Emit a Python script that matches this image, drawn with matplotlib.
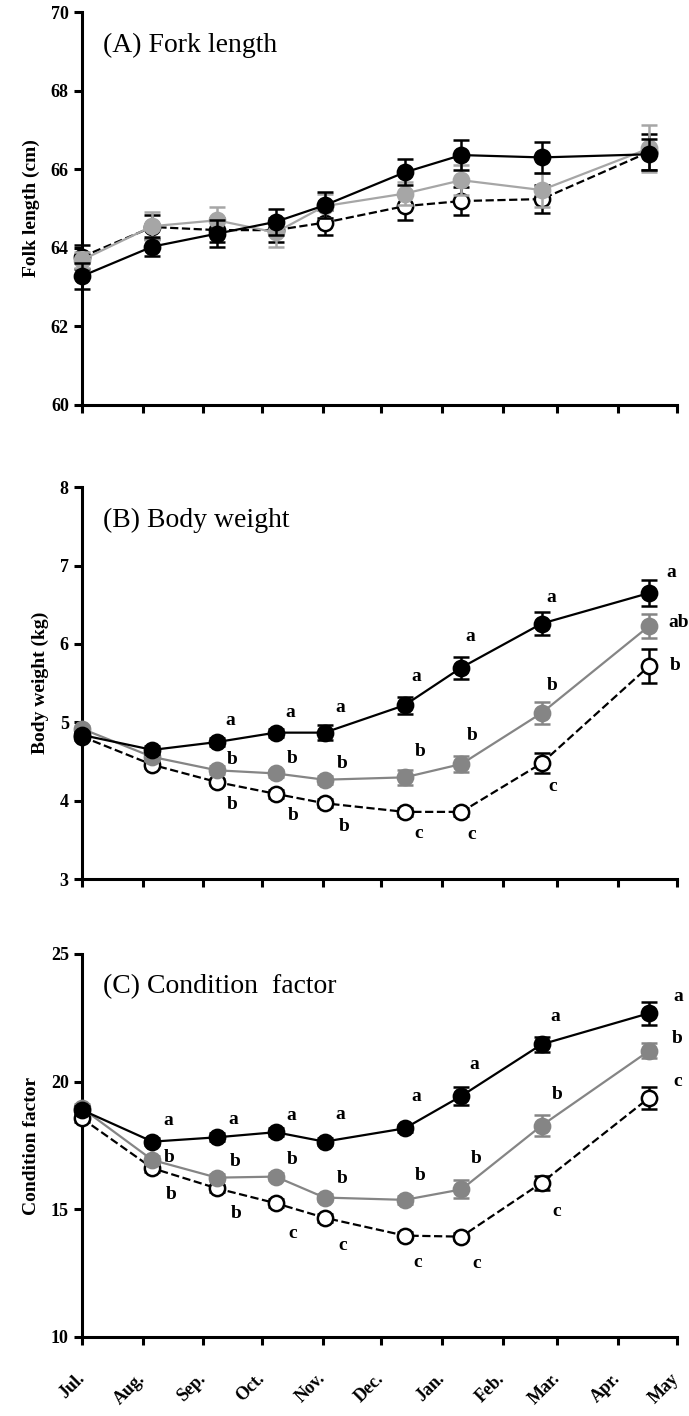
import matplotlib
matplotlib.use("Agg")
import matplotlib.pyplot as plt
import matplotlib.transforms as mtrans

plt.rcParams['font.family'] = ['Liberation Serif', 'DejaVu Serif']

# x axis: days since 1 Jul, ticks at the start of each month
month_ticks = [0, 31, 62, 92, 123, 153, 184, 215, 243, 274, 304]
month_labels = ["Jul.", "Aug.", "Sep.", "Oct.", "Nov.", "Dec.", "Jan.", "Feb.", "Mar.", "Apr.", "May"]
sample_day = [0, 36, 69, 99, 124, 165, 194, 235, 290]

# (A) Fork length (cm)
fl_black = [63.28, 64.03, 64.36, 64.66, 65.08, 65.92, 66.36, 66.30, 66.38]
fl_black_err = [0.33, 0.25, 0.35, 0.33, 0.33, 0.33, 0.38, 0.40, 0.40]
fl_gray = [63.69, 64.55, 64.70, 64.39, 65.06, 65.38, 65.72, 65.47, 66.53]
fl_gray_err = [0.20, 0.35, 0.35, 0.37, 0.30, 0.30, 0.38, 0.43, 0.60]
fl_open = [63.77, 64.53, 64.45, 64.45, 64.64, 65.06, 65.19, 65.24, 66.44]
fl_open_err = [0.30, 0.30, 0.30, 0.30, 0.32, 0.34, 0.36, 0.36, 0.45]

# (B) Body weight (kg)
bw_black = [4.84, 4.65, 4.75, 4.87, 4.87, 5.22, 5.70, 6.26, 6.65]
bw_black_err = [0.04, 0.05, 0.05, 0.05, 0.10, 0.11, 0.14, 0.15, 0.17]
bw_gray = [4.92, 4.56, 4.39, 4.35, 4.27, 4.30, 4.47, 5.12, 6.23]
bw_gray_err = [0.04, 0.04, 0.05, 0.05, 0.05, 0.10, 0.10, 0.14, 0.15]
bw_open = [4.82, 4.46, 4.24, 4.09, 3.97, 3.86, 3.86, 4.48, 5.72]
bw_open_err = [0.04, 0.04, 0.04, 0.05, 0.05, 0.05, 0.05, 0.13, 0.22]
bw_black_sig = ["", "", "a", "a", "a", "a", "a", "a", "a"]
bw_gray_sig = ["", "", "b", "b", "b", "b", "b", "b", "ab"]
bw_open_sig = ["", "", "b", "b", "b", "c", "c", "c", "b"]

# (C) Condition factor
cf_black = [18.89, 17.65, 17.82, 18.02, 17.65, 18.17, 19.44, 21.46, 22.68]
cf_black_err = [0.15, 0.15, 0.15, 0.15, 0.15, 0.15, 0.35, 0.30, 0.45]
cf_gray = [18.96, 16.93, 16.24, 16.28, 15.46, 15.37, 15.78, 18.28, 21.21]
cf_gray_err = [0.15, 0.15, 0.15, 0.15, 0.15, 0.15, 0.35, 0.42, 0.30]
cf_open = [18.56, 16.61, 15.82, 15.24, 14.67, 13.97, 13.93, 16.04, 19.37]
cf_open_err = [0.15, 0.15, 0.15, 0.15, 0.15, 0.15, 0.15, 0.28, 0.43]
cf_black_sig = ["", "a", "a", "a", "a", "a", "a", "a", "a"]
cf_gray_sig = ["", "b", "b", "b", "b", "b", "b", "b", "b"]
cf_open_sig = ["", "b", "b", "c", "c", "c", "c", "c", "c"]

# letter offsets from the point, pixels
bw_black_off = [(0, 0), (0, 0), (13, 22), (15, 20), (16, 25), (12, 29), (9, 31), (10, 26), (22, 21)]
bw_gray_off = [(0, 0), (0, 0), (15, 11), (17, 15), (18, 16), (15, 26), (11, 29), (11, 28), (29, 3)]
bw_open_off = [(0, 0), (0, 0), (15, -22), (18, -22), (20, -23), (14, -22), (10, -23), (11, -23), (26, 0)]
cf_black_off = [(0, 0), (16, 21), (16, 18), (16, 17), (16, 27), (12, 32), (13, 31), (14, 28), (29, 17)]
cf_gray_off = [(0, 0), (17, 3), (18, 16), (17, 17), (18, 19), (15, 24), (15, 31), (16, 31), (28, 12)]
cf_open_off = [(0, 0), (19, -26), (19, -25), (17, -30), (18, -28), (13, -27), (15, -27), (15, -29), (28, 16)]

fig = plt.figure(figsize=(6.89, 14.16), dpi=100)
ax_a = fig.add_axes([0.119, 0.714, 0.863, 0.2775])
ax_b = fig.add_axes([0.119, 0.379, 0.863, 0.277])
ax_c = fig.add_axes([0.119, 0.0558, 0.863, 0.2705])


def draw_series(ax, y, err, color, face, ls, z):
    ax.errorbar(sample_day, y, yerr=err, color=color, ecolor=color, ls=ls, lw=1.6,
                marker="o", ms=11, mfc=face, mec=color,
                mew=1.8, capsize=5.5, capthick=1.8, elinewidth=1.8,
                zorder=z, clip_on=False)


def add_letters(ax, y, letters, offsets):
    for d, v, s, off in zip(sample_day, y, letters, offsets):
        if s:
            ax.annotate(s, (d, v), xytext=off, textcoords="offset pixels",
                        ha="center", va="center", fontsize=14, fontweight="bold")


def style_axis(ax, ylim, yticks, ylabel, title, show_months):
    ax.set_xlim(0, 304)
    ax.set_ylim(*ylim)
    ax.set_yticks(yticks)
    ax.set_xticks(month_ticks)
    if show_months:
        ax.set_xticklabels(month_labels, rotation=45, ha="right", va="center",
                           rotation_mode="anchor", fontsize=13, fontweight="bold")
        shift = mtrans.ScaledTranslation(7 / 72, 0, ax.figure.dpi_scale_trans)
        for lab in ax.get_xticklabels():
            lab.set_transform(lab.get_transform() + shift)
    else:
        ax.set_xticklabels([])
    for lab in ax.get_yticklabels():
        lab.set_fontweight("bold")
        lab.set_fontsize(13)
    ax.spines["top"].set_visible(False)
    ax.spines["right"].set_visible(False)
    ax.spines["left"].set_linewidth(2.2)
    ax.spines["bottom"].set_linewidth(2.2)
    ax.tick_params(direction="out", length=6, width=2.2)
    ax.tick_params(axis="x", pad=22)
    ax.set_ylabel(ylabel, fontsize=14, fontweight="bold", labelpad=8)
    ax.text(0.035, 0.915, title, transform=ax.transAxes, fontsize=20, va="center", ha="left")


draw_series(ax_a, fl_open, fl_open_err, "black", "white", "--", 3)
draw_series(ax_a, fl_gray, fl_gray_err, "#a6a6a6", "#a6a6a6", "-", 4)
draw_series(ax_a, fl_black, fl_black_err, "black", "black", "-", 5)
style_axis(ax_a, (60, 70), [60, 62, 64, 66, 68, 70], "Folk length (cm)", "(A) Fork length", False)

draw_series(ax_b, bw_open, bw_open_err, "black", "white", "--", 3)
draw_series(ax_b, bw_gray, bw_gray_err, "#858585", "#858585", "-", 4)
draw_series(ax_b, bw_black, bw_black_err, "black", "black", "-", 5)
add_letters(ax_b, bw_black, bw_black_sig, bw_black_off)
add_letters(ax_b, bw_gray, bw_gray_sig, bw_gray_off)
add_letters(ax_b, bw_open, bw_open_sig, bw_open_off)
style_axis(ax_b, (3, 8), [3, 4, 5, 6, 7, 8], "Body weight (kg)", "(B) Body weight", False)

draw_series(ax_c, cf_open, cf_open_err, "black", "white", "--", 3)
draw_series(ax_c, cf_gray, cf_gray_err, "#858585", "#858585", "-", 4)
draw_series(ax_c, cf_black, cf_black_err, "black", "black", "-", 5)
add_letters(ax_c, cf_black, cf_black_sig, cf_black_off)
add_letters(ax_c, cf_gray, cf_gray_sig, cf_gray_off)
add_letters(ax_c, cf_open, cf_open_sig, cf_open_off)
style_axis(ax_c, (10, 25), [10, 15, 20, 25], "Condition factor", "(C) Condition  factor", True)

fig.savefig("out.png", dpi=100)
